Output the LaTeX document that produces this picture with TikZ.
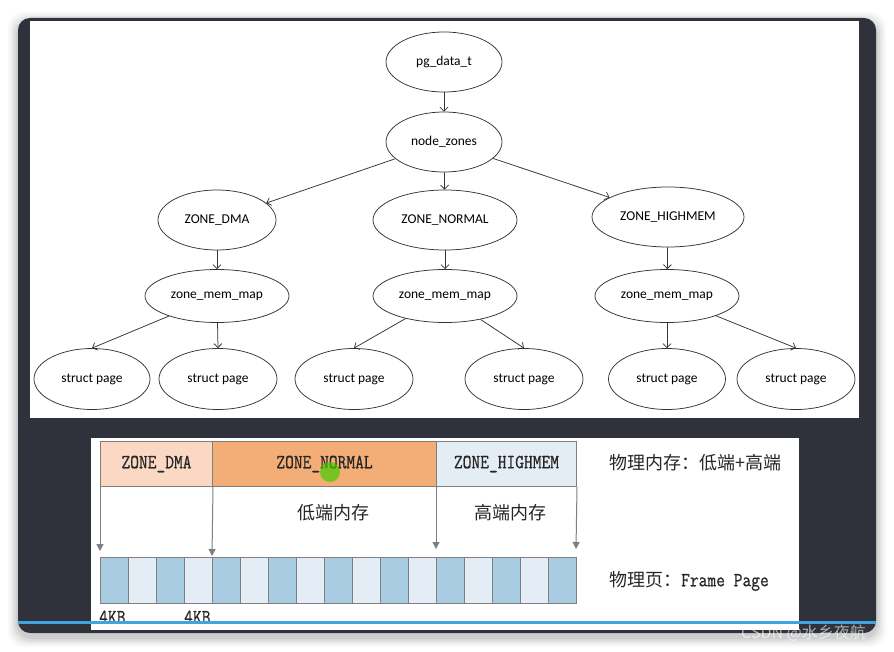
\documentclass[tikz,border=0pt]{standalone}
\usepackage{fontspec}
\usepackage{graphicx}
\setmainfont{Carlito}
\setmonofont{Latin Modern Mono}[FakeBold=0.8]
\newfontfamily\cjk{Noto Sans CJK SC}
\usetikzlibrary{shapes.geometric,arrows.meta}
\definecolor{frameC}{HTML}{2F323B}
\definecolor{dmaC}{HTML}{FAD8C3}
\definecolor{norC}{HTML}{F2AE76}
\definecolor{highC}{HTML}{E4ECF4}
\definecolor{cellD}{HTML}{A8CCE2}
\definecolor{cellL}{HTML}{E4EDF5}
\definecolor{boxL}{HTML}{7F7F7F}
\definecolor{lineB}{HTML}{3FA4E0}
\definecolor{txt}{HTML}{262626}
\newcommand{\mt}[1]{{\fontsize{17}{17}\ttfamily\scalebox{1}[1.18]{#1}}}
\tikzset{
  ell/.style={ellipse,draw=black!80,line width=0.75pt,inner sep=0pt,
    font=\fontsize{13.5}{14}\selectfont,text=black},
  arr/.style={-{Straight Barb[length=4pt,width=8pt]},line width=0.75pt,draw=black!80},
  zbox/.style={draw=boxL,line width=1pt,minimum height=45,inner sep=0pt,anchor=north west,text=txt},
  cell/.style={draw=boxL,line width=1pt,minimum width=28,minimum height=46,inner sep=0pt},
  garr/.style={-{Triangle[length=7pt,width=7pt]},draw=boxL,line width=1pt},
  cjkt/.style={font=\cjk\fontsize{18}{18}\selectfont,text=txt,inner sep=0pt}
}
\begin{document}
\begin{tikzpicture}[x=1pt,y=-1pt]
\useasboundingbox (0,0) rectangle (894,652);
\fill[white] (0,0) rectangle (894,652);
% shadow
\foreach \d/\o in {10/0.025,8/0.03,6/0.04,4/0.05,2/0.06}
  \fill[black,opacity=\o,rounded corners=16] (18-\d,18-\d+4) rectangle (876+\d,633+\d+4);
% frame
\fill[frameC,rounded corners=12] (18,18) rectangle (876,633);
% top panel
\fill[white] (30,21) rectangle (859,418);
% bottom panel
\fill[white] (91,438) rectangle (799,630);

% ---- tree ----
\node[ell,minimum width=116,minimum height=60] (pg) at (444,62) {pg\_data\_t};
\node[ell,minimum width=116,minimum height=60] (nz) at (444,142) {node\_zones};
\node[ell,minimum width=118,minimum height=60] (dma) at (217,220) {ZONE\_DMA};
\node[ell,minimum width=144,minimum height=60] (nor) at (445,220) {ZONE\_NORMAL};
\node[ell,minimum width=152,minimum height=60] (high) at (668,217) {ZONE\_HIGHMEM};
\node[ell,minimum width=144,minimum height=53] (mm1) at (217,296) {zone\_mem\_map};
\node[ell,minimum width=144,minimum height=53] (mm2) at (445,296) {zone\_mem\_map};
\node[ell,minimum width=144,minimum height=53] (mm3) at (667,296) {zone\_mem\_map};
\node[ell,minimum width=116,minimum height=61] (sp1) at (92,379) {struct page};
\node[ell,minimum width=118,minimum height=61] (sp2) at (218,379) {struct page};
\node[ell,minimum width=118,minimum height=61] (sp3) at (354,379) {struct page};
\node[ell,minimum width=118,minimum height=61] (sp4) at (524,379) {struct page};
\node[ell,minimum width=117,minimum height=61] (sp5) at (667,379) {struct page};
\node[ell,minimum width=118,minimum height=61] (sp6) at (796,379) {struct page};

\draw[arr] (pg) -- (nz);
\draw[arr] (nz) -- (dma);
\draw[arr] (nz) -- (nor);
\draw[arr] (nz) -- (high);
\draw[arr] (dma) -- (mm1);
\draw[arr] (nor) -- (mm2);
\draw[arr] (high) -- (mm3);
\draw[arr] (mm1) -- (sp1.north);
\draw[arr] (mm1) -- (sp2.north);
\draw[arr] (mm2) -- (sp3.north);
\draw[arr] (mm2) -- (sp4.north);
\draw[arr] (mm3) -- (sp5.north);
\draw[arr] (mm3) -- (sp6.north);

% ---- bottom memory diagram ----
\node[zbox,fill=dmaC,minimum width=112] (zd) at (100,441) {\mt{ZONE\_DMA}};
\node[zbox,fill=norC,minimum width=224] (zn) at (212,441) {\mt{ZONE\_NORMAL}};
\node[zbox,fill=highC,minimum width=140] (zh) at (436,441) {\mt{ZONE\_HIGHMEM}};
\fill[green!55!lime!80!black,opacity=0.7] (330,472) circle (10);

\foreach \i in {0,2,...,16}
  \node[cell,fill=cellD] (c\i) at ({114+28*\i},580) {};
\foreach \i in {1,3,...,15}
  \node[cell,fill=cellL] (c\i) at ({114+28*\i},580) {};

\coordinate (t1) at (100,551);
\coordinate (t2) at (212,556);
\coordinate (t3) at (436,549);
\coordinate (t4) at (576,549);
\draw[garr] (zd.south west) -- (t1);
\draw[garr] (zd.south east) -- (t2);
\draw[garr] (zh.south west) -- (t3);
\draw[garr] (zh.south east) -- (t4);

\node[cjkt] (low) at (333,513) {低端内存};
\node[cjkt] (hi) at (510,513) {高端内存};
\node[cjkt,anchor=west] (phys) at (609,463) {物理内存：低端+高端};
\node[cjkt,anchor=west] (fp) at (609,581) {物理页：\mt{Frame Page}};

\node[anchor=west,inner sep=0pt,text=txt] (k1) at (99,617) {\mt{4KB}};
\node[anchor=west,inner sep=0pt,text=txt] (k2) at (184,617) {\mt{4KB}};

% blue line
\draw[lineB,line width=3pt] (18,622) -- (876,622);
% watermark
\node[anchor=west,inner sep=0pt,text=white,opacity=0.6,font=\cjk\fontsize{16}{16}\selectfont] (wm) at (741,633) {CSDN @水乡夜航};
\end{tikzpicture}
\end{document}
